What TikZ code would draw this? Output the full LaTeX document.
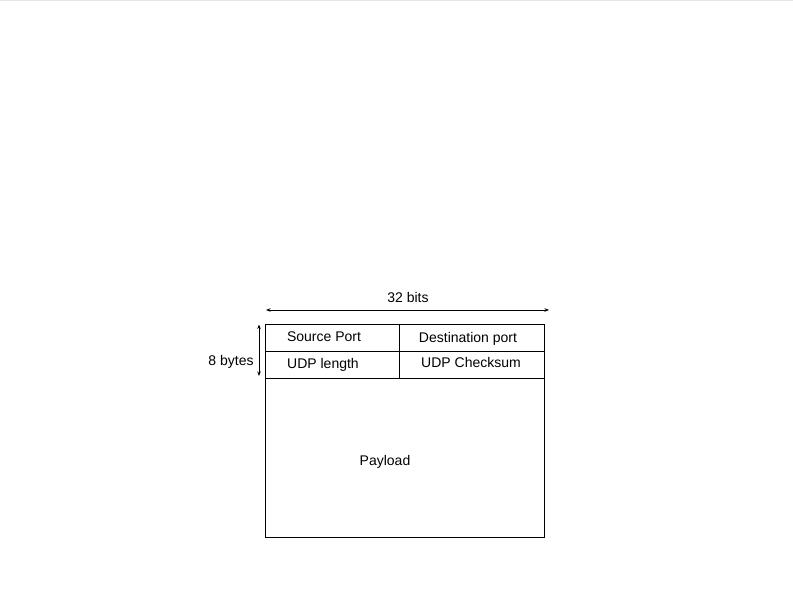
\documentclass[tikz,border=0pt]{standalone}
\usepackage{fontspec}
\setmainfont{Liberation Sans}
\usetikzlibrary{arrows.meta}
\begin{document}
\begin{tikzpicture}[x=1pt,y=-1pt,
  lbl/.style={inner sep=0pt,anchor=base,font=\fontsize{14}{16}\selectfont},
  cell/.style={draw=black,line width=0.9pt},
  dim/.style={line width=0.8pt,{Stealth[length=4.5pt,width=3.5pt]}-{Stealth[length=4.5pt,width=3.5pt]}}]
\useasboundingbox (0,0) rectangle (793,595);
\fill[white] (0,0) rectangle (793,595);
\draw[line width=1pt,draw=black!10] (0,0.5) -- (793,0.5);
% boxes
\draw[cell] (265.7,324.3) rectangle (544,537);
\draw[cell] (265.7,351.7) -- (544,351.7);
\draw[cell] (265.7,378.7) -- (544,378.7);
\draw[cell] (399,324.3) -- (399,378.7);
% texts
\node[lbl] (bits) at (408,302.5) {32 bits};
\node[lbl] (bytes) at (231,365.8) {8 bytes};
\node[lbl] (sp) at (324,341.8) {Source Port};
\node[lbl] (dp) at (468,342.4) {Destination port};
\node[lbl] (len) at (323,368.5) {UDP length};
\node[lbl] (ck) at (471,367.8) {UDP Checksum};
\node[lbl] (pl) at (385,465) {Payload};
% dimension arrows
\coordinate (hl) at (266,310);
\coordinate (hr) at (549,310);
\coordinate (vt) at (259,324.5);
\coordinate (vb) at (259,376);
\draw[dim] (hl) -- (hr);
\draw[dim] (vt) -- (vb);
\end{tikzpicture}
\end{document}
